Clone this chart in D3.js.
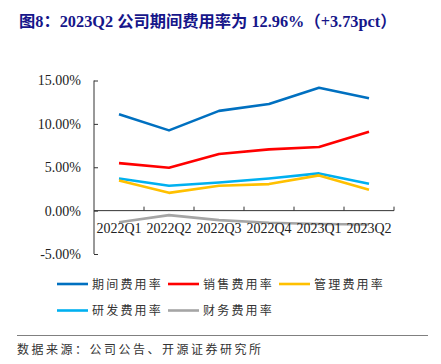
<!DOCTYPE html>
<html><head><meta charset="utf-8">
<script src="https://cdn.jsdelivr.net/npm/d3@7"></script>
<style>
html,body{margin:0;padding:0;background:#fff;}
svg{display:block;}
</style></head>
<body>
<svg id="c" width="441" height="364"></svg>
<script>
const categories = ["2022Q1","2022Q2","2022Q3","2022Q4","2023Q1","2023Q2"];
const periodRate = [11.1, 9.25, 11.5, 12.3, 14.17, 12.96];
const salesRate  = [5.48, 4.94, 6.52, 7.06, 7.33, 9.1];
const adminRate  = [3.48, 2.05, 2.86, 3.06, 4.06, 2.4];
const rdRate     = [3.71, 2.86, 3.25, 3.71, 4.29, 3.1];
const finRate    = [-1.35, -0.52, -1.1, -1.4, -1.55, -1.6];
const seriesNames = ["期间费用率","销售费用率","管理费用率","研发费用率","财务费用率"];
const seriesColors = ["#0070C0","#FF0000","#FFC000","#00B0F0","#A5A5A5"];
const yTicks = [-5, 0, 5, 10, 15];
const titleText = "图8：2023Q2 公司期间费用率为 12.96%（+3.73pct）";
const sourceText = "数据来源：公司公告、开源证券研究所";

const series = [periodRate, salesRate, adminRate, rdRate, finRate];
const svg = d3.select("#c");
const serif = "'Liberation Serif','Times New Roman','Noto Sans CJK SC',serif";
const cjk = "'Noto Sans CJK SC','Liberation Serif',sans-serif";

// title
svg.append("text").attr("x", 19).attr("y", 27)
  .attr("font-family", serif).attr("font-weight", "bold").attr("font-size", 16.3)
  .attr("fill", "#16168a").text(titleText);

const x = d3.scaleBand().domain(categories).range([94, 394]);
const y = d3.scaleLinear().domain([-5, 15]).range([254, 80.5]);
const axisColor = "#333";

// y axis
const yAxis = svg.append("g").attr("transform", "translate(94,0)")
  .call(d3.axisLeft(y).tickValues(yTicks).tickSize(-4).tickPadding(13)
    .tickFormat(d => d.toFixed(2) + "%"));
yAxis.select(".domain").remove();
yAxis.selectAll(".tick line").attr("stroke", axisColor).attr("x1", 0).attr("x2", 4);
yAxis.append("line").attr("x1", 0).attr("x2", 0).attr("y1", y(15)).attr("y2", y(-5)).attr("stroke", axisColor);
yAxis.selectAll("text").attr("font-family", serif).attr("font-size", 14).attr("fill", "#222");

// lines
const line = d3.line().x((d, i) => x(categories[i]) + x.bandwidth() / 2).y(d => y(d));
const order = [4, 3, 2, 1, 0];
order.forEach(k => {
  svg.append("path").datum(series[k]).attr("d", line)
    .attr("fill", "none").attr("stroke", seriesColors[k]).attr("stroke-width", 2.6)
    .attr("stroke-linejoin", "round").attr("stroke-linecap", "butt");
});

// x axis at zero
const xAxis = svg.append("g").attr("transform", `translate(0,${y(0)})`);
xAxis.append("line").attr("x1", 94).attr("x2", 394).attr("y1", 0).attr("y2", 0).attr("stroke", axisColor);
const tickPos = categories.map(c => x(c) + x.bandwidth()).concat([]);
xAxis.selectAll(".xt").data(tickPos).enter().append("line")
  .attr("x1", d => d).attr("x2", d => d).attr("y1", 0).attr("y2", -4).attr("stroke", axisColor);
xAxis.selectAll(".xl").data(categories).enter().append("text")
  .attr("x", d => x(d) + x.bandwidth() / 2).attr("y", 22)
  .attr("text-anchor", "middle").attr("font-family", serif).attr("font-size", 14)
  .attr("fill", "#222").text(d => d);

// legend
const legPos = [[57, 284], [168, 284], [279, 284], [57, 310.5], [168, 310.5]];
seriesNames.forEach((n, i) => {
  const [lx, ly] = legPos[i];
  svg.append("line").attr("x1", lx).attr("x2", lx + 31).attr("y1", ly).attr("y2", ly)
    .attr("stroke", seriesColors[i]).attr("stroke-width", 2.6);
  svg.append("text").attr("x", lx + 35).attr("y", ly + 4.5)
    .attr("font-family", cjk).attr("font-size", 12).attr("letter-spacing", 2.2)
    .attr("fill", "#333").text(n);
});

// source
svg.append("line").attr("x1", 17).attr("x2", 428).attr("y1", 335.5).attr("y2", 335.5)
  .attr("stroke", "#808080").attr("stroke-width", 1);
svg.append("text").attr("x", 17).attr("y", 353.5)
  .attr("font-family", cjk).attr("font-size", 12).attr("letter-spacing", 2.5)
  .attr("fill", "#333").text(sourceText);
</script>
</body></html>
